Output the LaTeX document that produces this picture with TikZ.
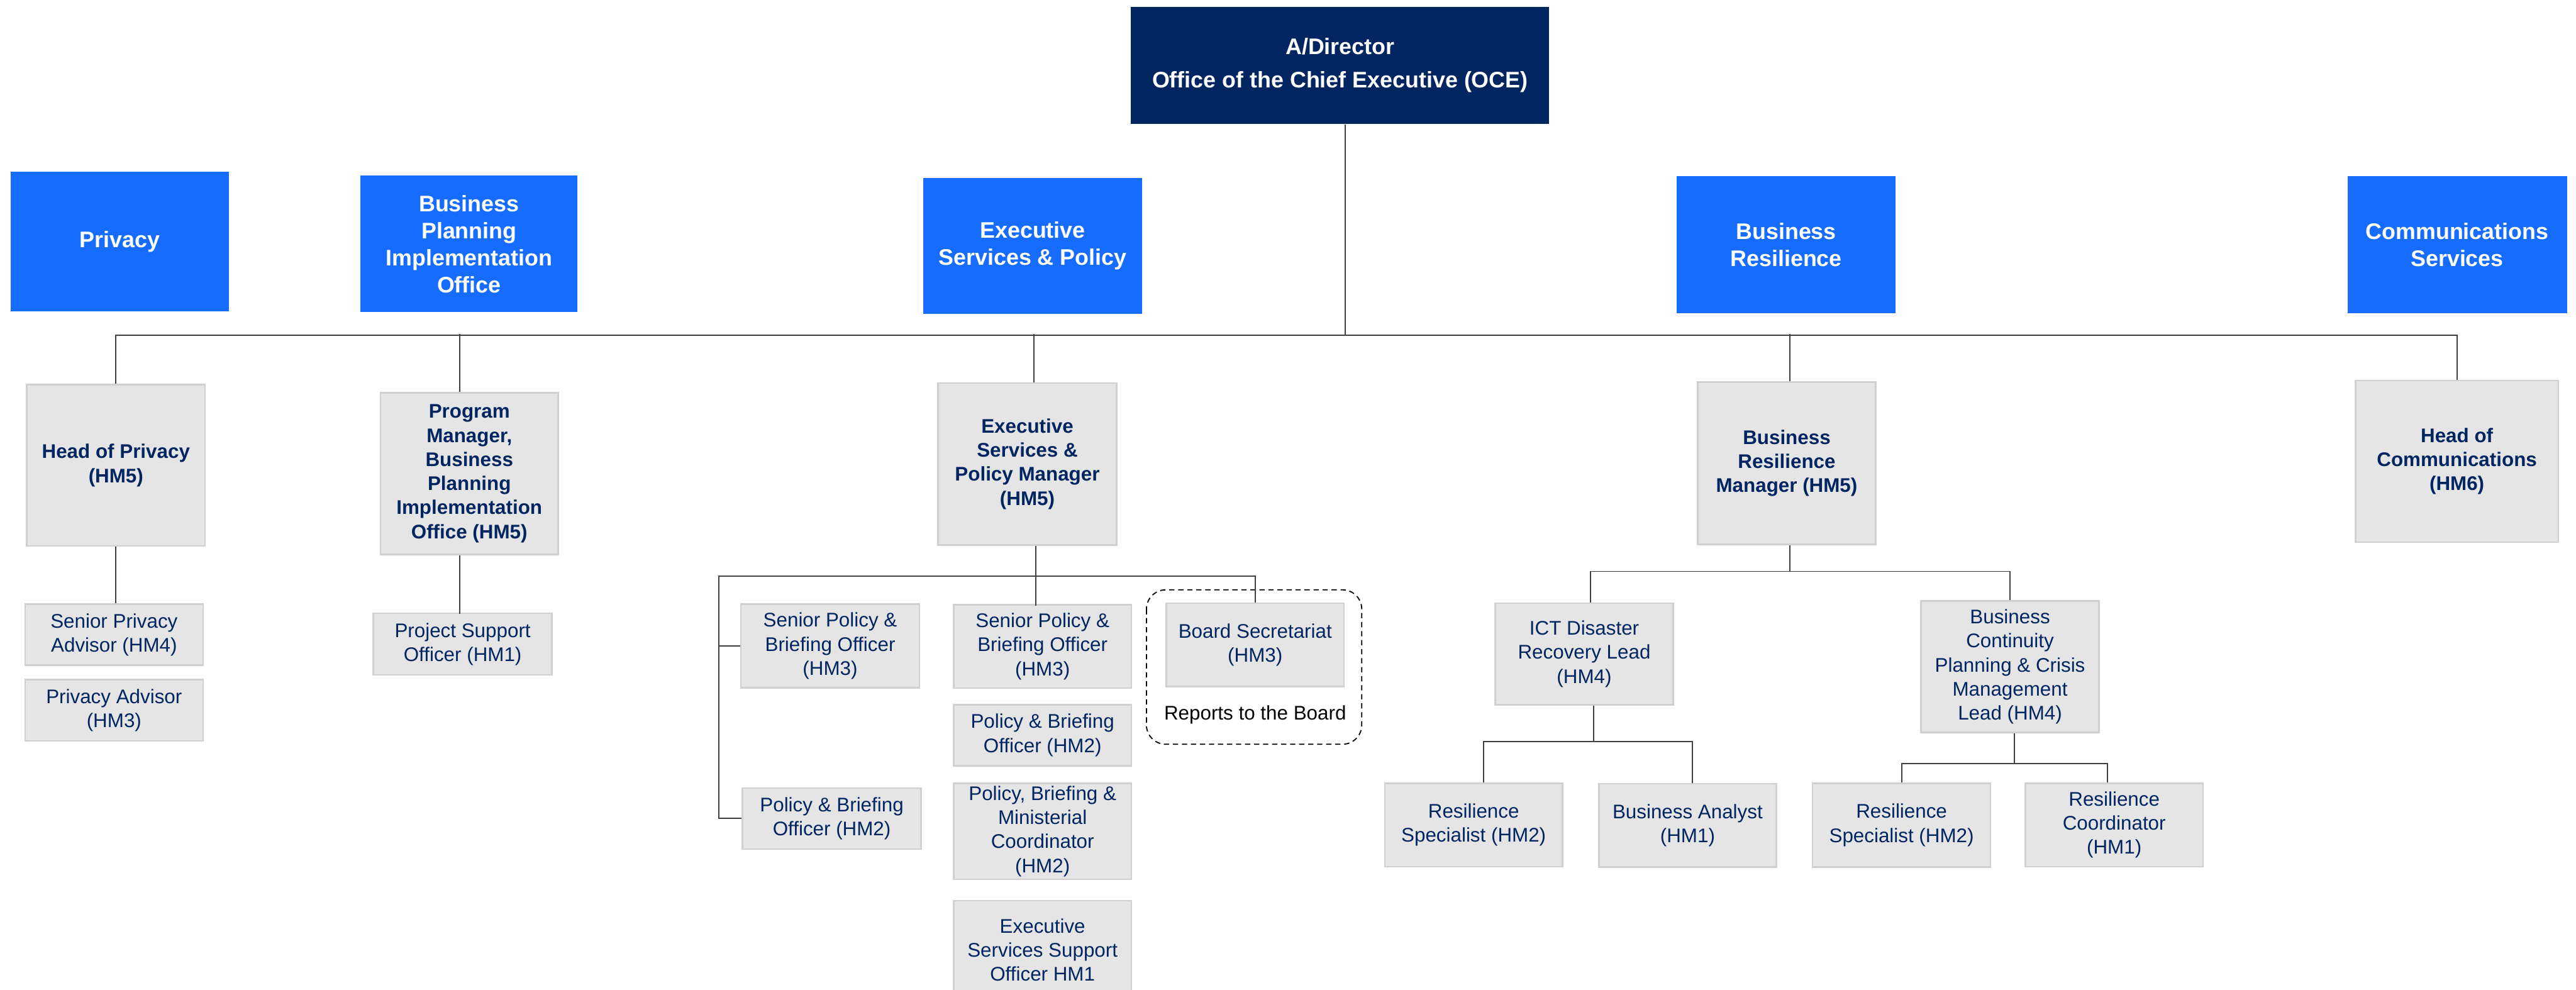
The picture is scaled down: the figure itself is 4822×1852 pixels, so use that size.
\documentclass[tikz,border=0pt]{standalone}
\usepackage{fontspec}
\setmainfont{Liberation Sans}
\usepackage{tikz}
\usetikzlibrary{positioning,calc}
\definecolor{ocenavy}{RGB}{0,37,97}
\definecolor{unitblue}{RGB}{22,108,255}
\definecolor{boxgrey}{RGB}{229,229,229}
\definecolor{boxedge}{RGB}{208,208,208}
\definecolor{linkgrey}{RGB}{64,64,64}
\tikzstyle{chief}=[fill=ocenavy,text=white,font=\fontsize{12}{14.4}\selectfont\bfseries,align=center,inner sep=0pt]
\tikzstyle{unit}=[fill=unitblue,text=white,font=\fontsize{12}{14.4}\selectfont\bfseries,align=center,inner sep=0pt]
\tikzstyle{role}=[fill=boxgrey,draw=boxedge,line width=0.85pt,text=ocenavy,font=\fontsize{10.5}{12.8}\selectfont,align=center,inner sep=0pt]
\tikzstyle{head}=[role,font=\fontsize{10.5}{12.8}\selectfont\bfseries]
\tikzstyle{link}=[draw=linkgrey,line width=0.6pt]
\tikzstyle{group}=[draw=black,line width=0.6pt,dash pattern=on 2.8pt off 2pt,rounded corners=0.36cm]
\tikzset{sz/.style 2 args={minimum width=#1*0.01cm,minimum height=#2*0.01cm}}

\begin{document}
\begin{tikzpicture}[x=0.01cm,y=-0.01cm]
\useasboundingbox (0,0) rectangle (4822,1852);
\clip (0,0) rectangle (4822,1852);

\node[chief,sz={783}{219}] (oce) at (2508.5,122.5) {A/Director\\[3.4pt]Office of the Chief Executive (OCE)};

\node[unit,sz={408}{262}] (privacy) at (224,452) {Privacy};
\node[unit,sz={406}{255}] (bpio) at (878,456.5) {Business\\Planning\\Implementation\\Office};
\node[unit,sz={410}{255}] (esp) at (1933,460.5) {Executive\\Services \& Policy};
\node[unit,sz={409}{256}] (resil) at (3343.5,458) {Business\\Resilience};
\node[unit,sz={411}{256}] (comms) at (4599.5,458) {Communications\\Services};

\node[head,sz={334}{302}] (hop) at (217,871) {Head of Privacy\\(HM5)};
\node[head,sz={333}{303}] (pm) at (878.5,886.5) {Program\\Manager,\\Business\\Planning\\Implementation\\Office (HM5)};
\node[head,sz={334}{303}] (esm) at (1923,868.5) {Executive\\Services \&\\Policy Manager\\(HM5)};
\node[head,sz={333}{304}] (brm) at (3344.5,867) {Business\\Resilience\\Manager (HM5)};
\node[head,sz={380}{303}] (hoc) at (4599,863.5) {Head of\\Communications\\(HM6)};

\node[role,sz={333}{114}] (spa) at (213.5,1188) {Senior Privacy\\Advisor (HM4)};
\node[role,sz={333}{115}] (pa) at (213.5,1329.5) {Privacy Advisor\\(HM3)};
\node[role,sz={334}{115}] (pso) at (866,1205.5) {Project Support\\Officer (HM1)};

\node[role,sz={334}{156}] (spb1) at (1554,1209) {Senior Policy \&\\Briefing Officer\\(HM3)};
\node[role,sz={334}{114}] (pbo1) at (1557,1532) {Policy \& Briefing\\Officer (HM2)};
\node[role,sz={333}{156}] (spb2) at (1951.5,1210) {Senior Policy \&\\Briefing Officer\\(HM3)};
\node[role,sz={333}{114}] (pbo2) at (1951.5,1376) {Policy \& Briefing\\Officer (HM2)};
\node[role,sz={333}{180}] (pbmc) at (1951.5,1556) {Policy, Briefing \&\\Ministerial\\Coordinator\\(HM2)};
\node[role,sz={333}{184}] (esso) at (1951.5,1778) {Executive\\Services Support\\Officer HM1};
\node[role,sz={333}{156}] (bsec) at (2349.5,1207) {Board Secretariat\\(HM3)};
\node[below=0.33cm of bsec,inner sep=0pt,font=\fontsize{10.5}{12.8}\selectfont] (rtb) {Reports to the Board};
\draw[group] (2146,1104) rectangle (2549,1393);

\node[role,sz={333}{190}] (ict) at (2965.5,1224) {ICT Disaster\\Recovery Lead\\(HM4)};
\node[role,sz={333}{246}] (bcp) at (3762.5,1248) {Business\\Continuity\\Planning \& Crisis\\Management\\Lead (HM4)};
\node[role,sz={333}{156}] (rs1) at (2758.5,1544) {Resilience\\Specialist (HM2)};
\node[role,sz={332}{156}] (ba) at (3159,1545) {Business Analyst\\(HM1)};
\node[role,sz={333}{157}] (rs2) at (3559.5,1544.5) {Resilience\\Specialist (HM2)};
\node[role,sz={333}{156}] (rc) at (3957.5,1544) {Resilience\\Coordinator\\(HM1)};

% reporting lines
\draw[link] ([xshift=0.095cm]oce.south) -- ++(0,395) coordinate (ocej);
\draw[link] (hop.north) |- (ocej) -| (hoc.north);
\draw[link] ([xshift=-0.175cm]pm.north) -- ++(0,-108);
\draw[link] ([xshift=0.12cm]esm.north) -- ++(0,-90);
\draw[link] ([xshift=0.055cm]brm.north) -- ++(0,-88);

\draw[link] (hop.south) -- (hop.south |- spa.north);
\draw[link] ([xshift=-0.175cm]pm.south) -- ++(0,110);

\coordinate (esl) at (1346,1078);
\draw[link] ([xshift=0.16cm]esm.south) -- ++(0,112);
\draw[link] (pbo1.west) -| (esl) -| (bsec.north);
\draw[link] (esl |- spb1.west) -- (spb1.west);

\draw[link] ([xshift=0.055cm]brm.south) -- ++(0,49) coordinate (brj);
\draw[link] ([xshift=0.115cm]ict.north) |- (brj) -| (bcp.north);
\draw[link] ([xshift=0.175cm]ict.south) -- ++(0,67) coordinate (ictj);
\draw[link] ([xshift=0.185cm]rs1.north) |- (ictj) -| ([xshift=0.09cm]ba.north);
\draw[link] ([xshift=0.085cm]bcp.south) -- ++(0,57) coordinate (bcpj);
\draw[link] (rs2.north) |- (bcpj) -| ([xshift=-0.125cm]rc.north);
\end{tikzpicture}
\end{document}
